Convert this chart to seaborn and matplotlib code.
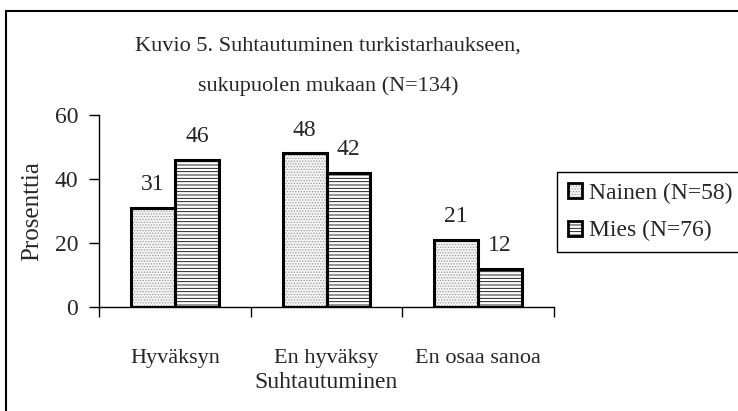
import pandas as pd
import matplotlib.pyplot as plt
import seaborn as sns
from matplotlib.patches import Rectangle, Patch
from matplotlib.legend_handler import HandlerTuple

# ===================== Data =====================
categories = ["Hyväksyn", "En hyväksy", "En osaa sanoa"]
groups = ["Nainen (N=58)", "Mies (N=76)"]
nainen = [31, 48, 21]
mies = [46, 42, 12]

df = pd.DataFrame({
    "Suhtautuminen": categories * 2,
    "Prosenttia": nainen + mies,
    "Ryhmä": [groups[0]] * 3 + [groups[1]] * 3,
})

# ===================== Style =====================
sns.set_style("white")
plt.rcParams["font.family"] = ["Liberation Serif", "DejaVu Serif"]
plt.rcParams["hatch.linewidth"] = 0.6
fs = 16

hatches = ["......", "-----"]
hatch_colors = ["#9a9a9a", "black"]
faces = ["#f4f4f4", "white"]

fig = plt.figure(figsize=(7.38, 4.11), dpi=100)
ax = fig.add_axes([99 / 738, 104 / 411, 455 / 738, 192 / 411])

sns.barplot(data=df, x="Suhtautuminen", y="Prosenttia", hue="Ryhmä",
            hue_order=groups, order=categories, width=0.58,
            palette=["white", "white"], saturation=1, ax=ax, legend=False)

# hatch fill + separate black outline on top
for cont, h, hc, fc in zip(ax.containers, hatches, hatch_colors, faces):
    for bar in cont:
        bar.set_facecolor(fc)
        bar.set_hatch(h)
        bar.set_edgecolor(hc)
        bar.set_linewidth(0)
        ax.add_patch(Rectangle(bar.get_xy(), bar.get_width(), bar.get_height(),
                               fill=False, edgecolor="black", linewidth=2.2, zorder=3))
    ax.bar_label(cont, padding=9, fontsize=17)

# ===================== Axes =====================
ax.set_ylim(0, 60)
ax.set_xlim(-0.5, 2.5)
ax.set_yticks([0, 20, 40, 60])
ax.set_xticks(range(len(categories)))
ax.set_xticks([-0.5, 0.5, 1.5, 2.5], minor=True)
ax.tick_params(axis="x", which="major", bottom=False, length=0, pad=30, labelsize=fs)
ax.tick_params(axis="x", which="minor", bottom=True, length=7, width=1,
               direction="out", color="black")
ax.tick_params(axis="y", left=True, length=7, width=1, direction="out", pad=8,
               labelsize=17, color="black")
for s in ["top", "right"]:
    ax.spines[s].set_visible(False)
for s in ["left", "bottom"]:
    ax.spines[s].set_color("black")
    ax.spines[s].set_linewidth(1)
ax.set_xlabel("Suhtautuminen", fontsize=17, labelpad=3)
ax.set_ylabel("Prosenttia", fontsize=18, labelpad=8)

# ===================== Title =====================
fig.text(328 / 738, 1 - 46 / 411, "Kuvio 5. Suhtautuminen turkistarhaukseen,",
         ha="center", va="center", fontsize=fs)
fig.text(328 / 738, 1 - 86 / 411, "sukupuolen mukaan (N=134)",
         ha="center", va="center", fontsize=fs)

# ===================== Legend =====================
handles = []
for h, hc, fc in zip(hatches, hatch_colors, faces):
    handles.append((Patch(facecolor=fc, hatch=h, edgecolor=hc, linewidth=0),
                    Patch(fill=False, edgecolor="black", linewidth=2)))
leg = fig.legend(handles, groups, loc="center left",
                 bbox_to_anchor=(557 / 738, 1 - 212 / 411),
                 handler_map={tuple: HandlerTuple(ndivide=1)},
                 fontsize=17, frameon=True, fancybox=False, framealpha=1,
                 edgecolor="black", handlelength=0.6, handleheight=0.6,
                 handletextpad=0.3, labelspacing=0.7, borderpad=0.45,
                 borderaxespad=0)
leg.get_frame().set_linewidth(1)

# ===================== Outer border =====================
fig.patches.append(Rectangle((6 / 738, -0.05), 1.0, 1 - 11 / 411 + 0.05,
                             transform=fig.transFigure, fill=False,
                             edgecolor="black", linewidth=1.5))

fig.savefig("out.png", dpi=100)
